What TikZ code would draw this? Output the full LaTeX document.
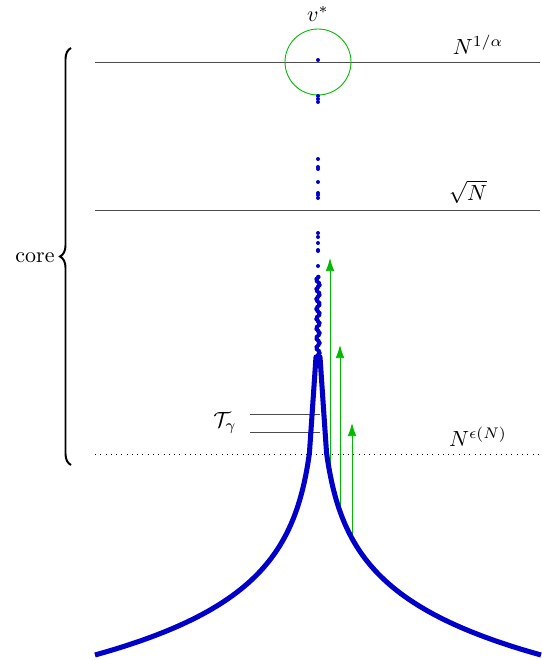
\documentclass[tikz,border=0pt]{standalone}
\usepackage{amsmath, amssymb}
\usetikzlibrary{decorations.pathreplacing, arrows.meta}
\definecolor{ptblue}{RGB}{0,0,200}
\definecolor{ptgreen}{RGB}{0,185,0}
\tikzset{
  level/.style={gray!60!black},
  pt/.style={fill=ptblue},
  growth/.style={ptgreen, -{Latex[length=6pt,width=4pt]}}
}

\begin{document}
\begin{tikzpicture}[x=0.16mm,y=-0.16mm]
\useasboundingbox (0,0) rectangle (542,660);
% levels
\draw[level] (95,62) coordinate (l1) -- (540,62) coordinate (r1);
\draw[level] (95,210) coordinate (l2) -- (540,210) coordinate (r2);
\draw[dotted] (95,454) coordinate (l3) -- (540,454) coordinate (r3);
\node (nalpha) at (478,45) {$N^{1/\alpha}$};
\node (nsqrt) at (468,192) {$\sqrt{N}$};
\node (neps) at (478,437) {$N^{\epsilon(N)}$};
% top vertex
\draw[ptgreen] (318,62) circle (33);
\node (vstar) at (318,14) {$v^*$};
% tree label
\node (tg) at (225,423) {$\mathcal{T}_\gamma$};
\draw[level] (250,414) coordinate (tga) -- (320,414) coordinate (tgb);
\draw[level] (250,432) coordinate (tgc) -- (320,432) coordinate (tgd);
% arrows (start on the right branch)
\coordinate (a1) at (330,{655-62*ln(223/12)});
\coordinate (b1) at (330,258);
\coordinate (a2) at (340,{655-62*ln(223/22)});
\coordinate (b2) at (340,345);
\coordinate (a3) at (352,{655-62*ln(223/34)});
\coordinate (b3) at (352,423);
\draw[growth] (a1) -- (b1);
\draw[growth] (a2) -- (b2);
\draw[growth] (a3) -- (b3);
% dots along the spine
\foreach \y in {60,96,99,102,159,167,169,182,193,195,198,233,237,243,250,251,266}
  \fill[pt] (318,\y) circle (2);
\foreach \y in {277,279,...,361}
  \fill[pt] ({318+1.5*sin(\y*37)},\y) circle (2.3);
% the two branches
\draw[ptblue, line width=2.3pt, line join=round]
  plot[domain=0:3.26, samples=70, variable=\t] ({318-223*exp(-\t)},{655-62*\t})
  -- (316,357) -- (320,357)
  -- plot[domain=3.26:0, samples=70, variable=\t] ({318+223*exp(-\t)},{655-62*\t});
% core
\draw[decorate, decoration={brace, amplitude=5pt}, line width=0.9pt] (71,465) coordinate (cb) -- (71,48) coordinate (ct);
\node (core) at (35,258) {core};
\end{tikzpicture}
\end{document}
